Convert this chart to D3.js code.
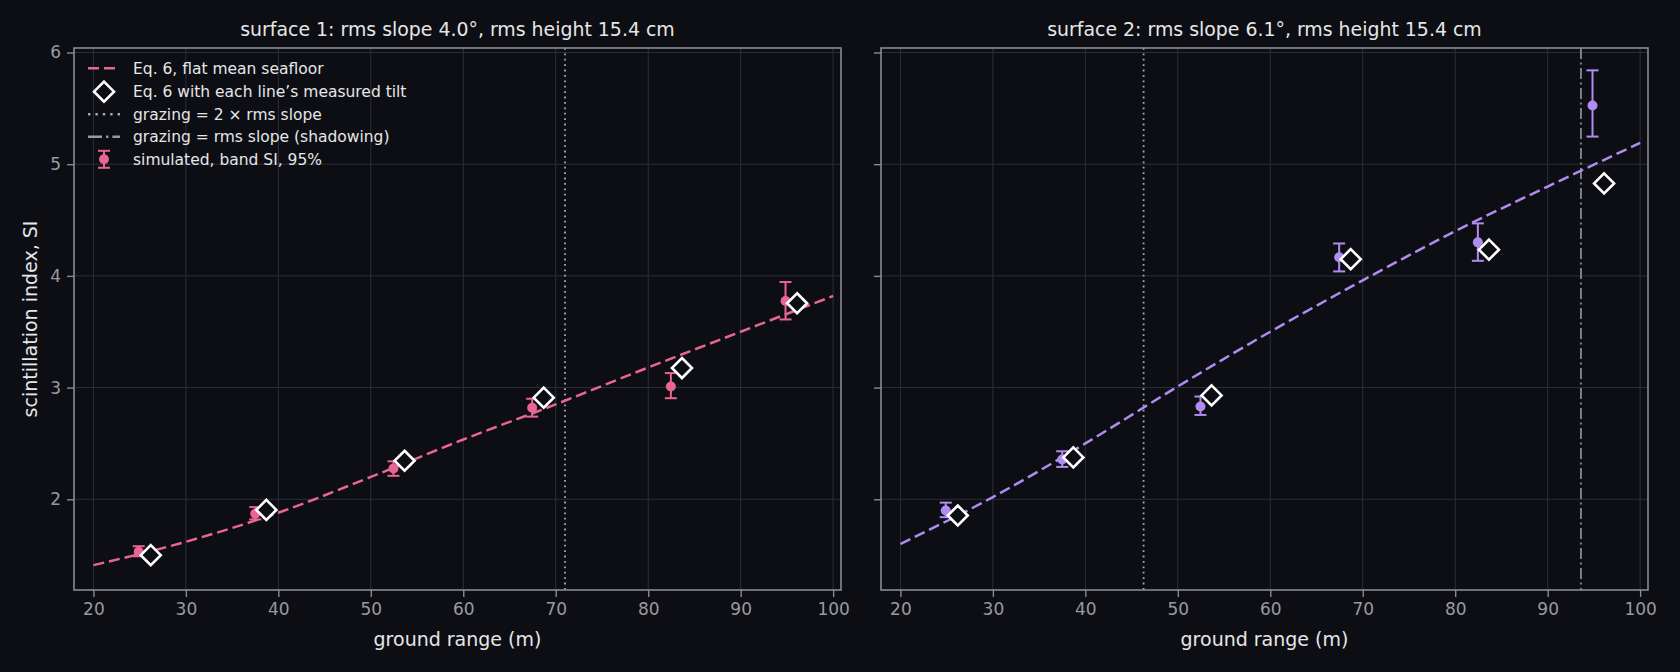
<!DOCTYPE html>
<html>
<head>
<meta charset="utf-8">
<script src="https://cdn.jsdelivr.net/npm/d3@7"></script>
<style>
  html, body { margin: 0; padding: 0; background: #0d0e14; }
  svg { display: block; font-family: "DejaVu Sans", sans-serif; }
</style>
</head>
<body>
<svg id="chart" width="1680" height="672"></svg>
<script>
// --- data ---
const rangeGrid = [20, 30, 40, 50, 60, 70, 80, 90, 100];
const eq6Flat1 = [1.41, 1.62, 1.88, 2.20, 2.535, 2.85, 3.18, 3.50, 3.82];
const eq6Flat2 = [1.60, 2.02, 2.50, 3.01, 3.50, 3.96, 4.40, 4.80, 5.19];

const simRange = [24.9, 37.5, 52.45, 67.45, 82.45, 94.85];
const tiltRange = [26.2, 38.7, 53.65, 68.7, 83.65, 96.1];

const sim1 = [1.53, 1.87, 2.275, 2.82, 3.01, 3.775];
const sim1Lo = [1.49, 1.82, 2.21, 2.74, 2.905, 3.61];
const sim1Hi = [1.58, 1.93, 2.34, 2.90, 3.13, 3.945];
const tilt1 = [1.50, 1.905, 2.345, 2.91, 3.175, 3.755];

const sim2 = [1.90, 2.357, 2.83, 4.166, 4.30, 5.525];
const sim2Lo = [1.84, 2.29, 2.755, 4.04, 4.135, 5.247];
const sim2Hi = [1.97, 2.43, 2.92, 4.29, 4.47, 5.84];
const tilt2 = [1.855, 2.375, 2.93, 4.15, 4.235, 4.828];

const titles = ["surface 1: rms slope 4.0°, rms height 15.4 cm",
                "surface 2: rms slope 6.1°, rms height 15.4 cm"];
const twiceSlopeRange = [71.0, 46.3];   // grazing = 2 x rms slope
const slopeRange = [null, 93.6];        // grazing = rms slope (shadowing)
const xTicks = [20, 30, 40, 50, 60, 70, 80, 90, 100];
const yTicks = [2, 3, 4, 5, 6];
const legendLabels = ["Eq. 6, flat mean seafloor",
                      "Eq. 6 with each line\u2019s measured tilt",
                      "grazing = 2 \u00d7 rms slope",
                      "grazing = rms slope (shadowing)",
                      "simulated, band SI, 95%"];

const panels = [
  { title: titles[0], color: "#e8668f", flat: eq6Flat1, sim: sim1, lo: sim1Lo, hi: sim1Hi, tilt: tilt1,
    dotted: twiceSlopeRange[0], dashdot: slopeRange[0], left: 74 },
  { title: titles[1], color: "#b08cf0", flat: eq6Flat2, sim: sim2, lo: sim2Lo, hi: sim2Hi, tilt: tilt2,
    dotted: twiceSlopeRange[1], dashdot: slopeRange[1], left: 881 }
];

const BG = "#0d0e14", SPINE = "#8a8a90", GRID = "#2c2e3b", TICKTXT = "#9a9a9e", TXT = "#e6e6e6";
const W = 767, TOP = 48, BOTTOM = 590;

const svg = d3.select("#chart");
svg.append("rect").attr("width", 1680).attr("height", 672).attr("fill", BG);

const y = d3.scaleLinear().domain([1.188, 6.04]).range([BOTTOM, TOP]);

function diamond(g, cx, cy, r) {
  g.append("path")
    .attr("d", `M${cx},${cy - r}L${cx + r},${cy}L${cx},${cy + r}L${cx - r},${cy}Z`)
    .attr("fill", BG).attr("stroke", "#ffffff").attr("stroke-width", 2.6);
}

function errbar(g, cx, yTop, yBot, cy, color) {
  g.append("line").attr("x1", cx).attr("x2", cx).attr("y1", yTop).attr("y2", yBot)
    .attr("stroke", color).attr("stroke-width", 2);
  [yTop, yBot].forEach(v => g.append("line").attr("x1", cx - 6).attr("x2", cx + 6)
    .attr("y1", v).attr("y2", v).attr("stroke", color).attr("stroke-width", 2));
  g.append("circle").attr("cx", cx).attr("cy", cy).attr("r", 5).attr("fill", color);
}

panels.forEach((p, pi) => {
  const x = d3.scaleLinear().domain([17.9, 100.85]).range([p.left, p.left + W]);
  const g = svg.append("g");

  // grid
  g.selectAll(".gx").data(xTicks).join("line")
    .attr("x1", d => x(d)).attr("x2", d => x(d)).attr("y1", TOP).attr("y2", BOTTOM)
    .attr("stroke", GRID).attr("stroke-width", 1);
  g.selectAll(".gy").data(yTicks).join("line")
    .attr("x1", p.left).attr("x2", p.left + W).attr("y1", d => y(d)).attr("y2", d => y(d))
    .attr("stroke", GRID).attr("stroke-width", 1);

  // reference lines
  g.append("line").attr("x1", x(p.dotted)).attr("x2", x(p.dotted)).attr("y1", TOP).attr("y2", BOTTOM)
    .attr("stroke", "#a8a8ac").attr("stroke-width", 1.8).attr("stroke-dasharray", "1.8,3.6");
  if (p.dashdot != null) {
    g.append("line").attr("x1", x(p.dashdot)).attr("x2", x(p.dashdot)).attr("y1", TOP).attr("y2", BOTTOM)
      .attr("stroke", "#9a9a9e").attr("stroke-width", 1.6).attr("stroke-dasharray", "11,3.5,2,3.5");
  }

  // Eq. 6 curve
  const line = d3.line().x((d, i) => x(rangeGrid[i])).y(d => y(d)).curve(d3.curveMonotoneX);
  g.append("path").datum(p.flat).attr("d", line)
    .attr("fill", "none").attr("stroke", p.color).attr("stroke-width", 2.5)
    .attr("stroke-dasharray", "11,5");

  // simulated points with 95% bars
  p.sim.forEach((v, i) => errbar(g, x(simRange[i]), y(p.hi[i]), y(p.lo[i]), y(v), p.color));

  // tilt-corrected diamonds
  p.tilt.forEach((v, i) => diamond(g, x(tiltRange[i]), y(v), 10));

  // spines
  g.append("rect").attr("x", p.left).attr("y", TOP).attr("width", W).attr("height", BOTTOM - TOP)
    .attr("fill", "none").attr("stroke", SPINE).attr("stroke-width", 1.6);

  // axes
  const ax = g.append("g").attr("transform", `translate(0,${BOTTOM})`)
    .call(d3.axisBottom(x).tickValues(xTicks).tickSize(7).tickPadding(6).tickFormat(d3.format("d")));
  const ay = g.append("g").attr("transform", `translate(${p.left},0)`)
    .call(d3.axisLeft(y).tickValues(yTicks).tickSize(7).tickPadding(6)
      .tickFormat(pi === 0 ? d3.format("d") : () => ""));
  [ax, ay].forEach(a => {
    a.select(".domain").remove();
    a.selectAll(".tick line").attr("stroke", SPINE).attr("stroke-width", 1.4);
    a.selectAll(".tick text").attr("fill", TICKTXT).attr("font-size", 17)
      .attr("font-family", "DejaVu Sans");
  });

  // title and labels
  g.append("text").attr("x", p.left + W / 2).attr("y", 36).attr("text-anchor", "middle")
    .attr("fill", TXT).attr("font-size", 18.9).text(p.title);
  g.append("text").attr("x", p.left + W / 2).attr("y", 646).attr("text-anchor", "middle")
    .attr("fill", TXT).attr("font-size", 19).text("ground range (m)");
  if (pi === 0) {
    g.append("text").attr("transform", `translate(37,${(TOP + BOTTOM) / 2}) rotate(-90)`)
      .attr("text-anchor", "middle").attr("fill", TXT).attr("font-size", 19)
      .text("scintillation index, SI");
  }
});

// legend (left panel, upper left, no frame)
const lg = svg.append("g");
const lx0 = 88, lx1 = 120, lTxt = 133, lRows = [68.3, 91.7, 114.3, 136.8, 159.3];
const pink = panels[0].color;
lg.append("line").attr("x1", lx0).attr("x2", lx1).attr("y1", lRows[0]).attr("y2", lRows[0])
  .attr("stroke", pink).attr("stroke-width", 2.6).attr("stroke-dasharray", "11,5");
diamond(lg, (lx0 + lx1) / 2, lRows[1], 10);
lg.append("line").attr("x1", lx0).attr("x2", lx1).attr("y1", lRows[2]).attr("y2", lRows[2])
  .attr("stroke", "#a8a8ac").attr("stroke-width", 2.4).attr("stroke-dasharray", "2.4,5");
lg.append("line").attr("x1", lx0).attr("x2", lx1).attr("y1", lRows[3]).attr("y2", lRows[3])
  .attr("stroke", "#9a9a9e").attr("stroke-width", 2.4).attr("stroke-dasharray", "14,4,2.4,4");
errbar(lg, (lx0 + lx1) / 2, lRows[4] - 8.5, lRows[4] + 8.5, lRows[4], pink);
lg.selectAll(".lt").data(legendLabels).join("text")
  .attr("x", lTxt).attr("y", (d, i) => lRows[i]).attr("dy", "0.36em")
  .attr("fill", TXT).attr("font-size", 15.5).text(d => d);
</script>
</body>
</html>
